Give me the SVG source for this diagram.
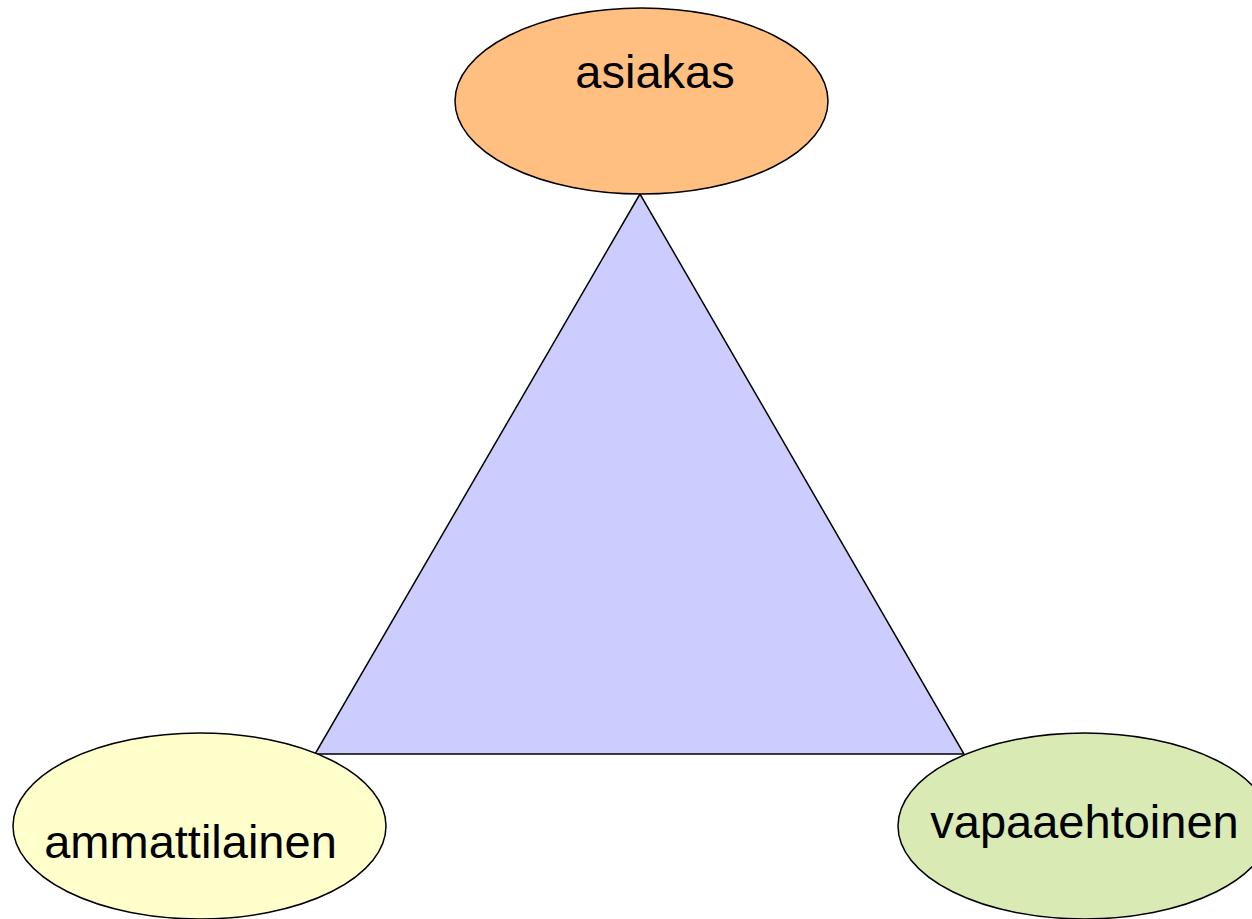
<svg xmlns="http://www.w3.org/2000/svg" width="1252" height="919" viewBox="0 0 1252 919">
<style>
.n{stroke:#000;stroke-width:1.5}
.t{font-family:"Liberation Sans",Arial,sans-serif;font-size:47px;fill:#000;text-anchor:middle}
</style>
<rect width="1252" height="919" fill="#fff"/>
<g id="connectors">
<polygon points="640,194 315,754 964,754" fill="#CCCCFF" stroke="#000" stroke-width="1.5" stroke-linejoin="miter"/>
</g>
<g id="asiakas">
<ellipse class="n" cx="641.5" cy="101" rx="186.5" ry="93" fill="#FFBF80"/>
<text class="t" x="655" y="88">asiakas</text>
</g>
<g id="ammattilainen">
<ellipse class="n" cx="199.5" cy="826" rx="186.5" ry="93" fill="#FFFFCC"/>
<text class="t" x="190.5" y="858">ammattilainen</text>
</g>
<g id="vapaaehtoinen">
<ellipse class="n" cx="1084.5" cy="826" rx="186.5" ry="93" fill="#D9EAB5"/>
<text class="t" x="1084.5" y="838">vapaaehtoinen</text>
</g>
</svg>
